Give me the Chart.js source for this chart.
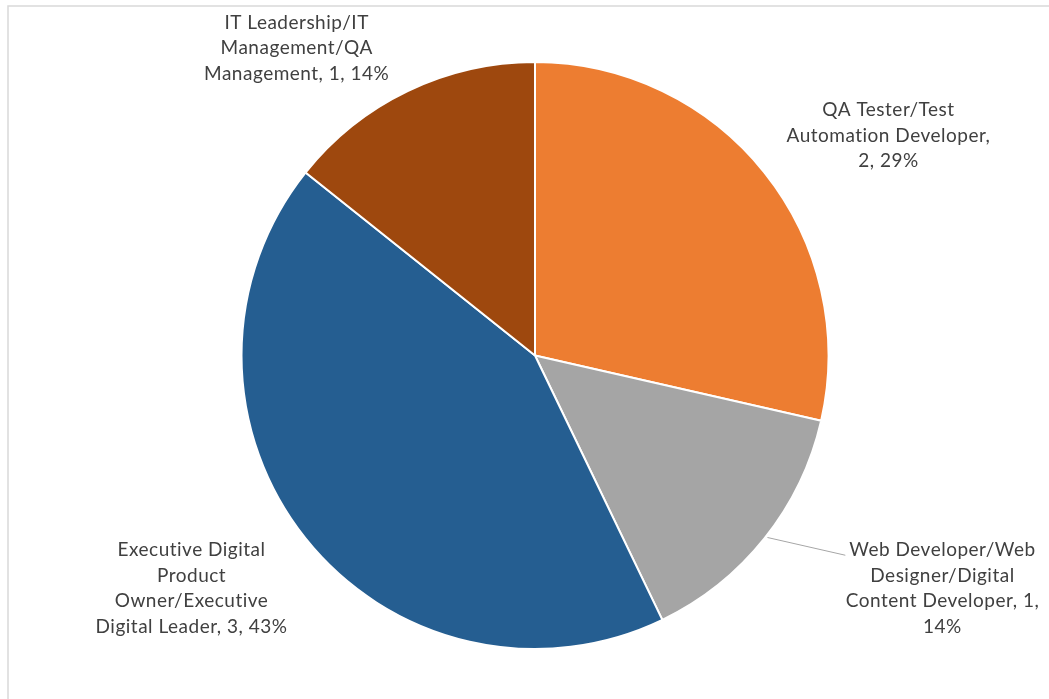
<!DOCTYPE html>
<html>
<head>
<meta charset="utf-8">
<title>Roles</title>
<script src="https://cdn.jsdelivr.net/npm/chart.js@4.4.1/dist/chart.umd.min.js"></script>
<style>
  html, body { margin: 0; padding: 0; background: #ffffff; }
  #wrap { position: relative; width: 1049px; height: 699px; }
</style>
</head>
<body>
<div id="wrap"><canvas id="rolesChart" width="1049" height="699"></canvas></div>
<script>
// Roles and how many people hold each one
const categories = [
    'QA Tester/Test Automation Developer',
    'Web Developer/Web Designer/Digital Content Developer',
    'Executive Digital Product Owner/Executive Digital Leader',
    'IT Leadership/IT Management/QA Management'
];
const counts = [2, 1, 3, 1];
const sliceColors = ['#ED7D31', '#A5A5A5', '#255E91', '#9E480E'];

// Label placement: offset of the label block centre from the slice's outer mid point,
// wrap width, and whether a leader line is drawn
const labelOffsets = [[124, -37], [178, 50], [-114, 50], [-111, -43]];
const labelWrap = [212, 196, 202, 200];
const leaderLines = [false, true, false, false];

const FONT = '19px Lato, "Open Sans", sans-serif';
const LINE_H = 25.5;

function wrapText(ctx, text, maxW) {
    const words = text.split(' ');
    const lines = [];
    let cur = '';
    words.forEach(w => {
        const test = cur ? cur + ' ' + w : w;
        if (cur && ctx.measureText(test).width > maxW) {
            lines.push(cur);
            cur = w;
        } else {
            cur = test;
        }
    });
    if (cur) lines.push(cur);
    return lines;
}

// Light frame around the chart area
const framePlugin = {
    id: 'frame',
    beforeDraw(chart) {
        const c = chart.ctx;
        c.save();
        c.strokeStyle = '#D9D9D9';
        c.lineWidth = 1.5;
        c.strokeRect(8, 6, chart.width + 20, chart.height + 20);
        c.restore();
    }
};

// Outside labels: "category, value, percent"
const outsideLabels = {
    id: 'outsideLabels',
    afterDatasetsDraw(chart) {
        const c = chart.ctx;
        const meta = chart.getDatasetMeta(0);
        const total = counts.reduce((a, b) => a + b, 0);
        c.save();
        c.font = FONT;
        c.letterSpacing = '0.5px';
        c.fillStyle = '#404040';
        c.textAlign = 'center';
        c.textBaseline = 'middle';
        meta.data.forEach((arc, i) => {
            const mid = (arc.startAngle + arc.endAngle) / 2;
            const ex = arc.x + Math.cos(mid) * arc.outerRadius;
            const ey = arc.y + Math.sin(mid) * arc.outerRadius;
            const lx = ex + labelOffsets[i][0];
            const ly = ey + labelOffsets[i][1];
            const pct = Math.round(counts[i] / total * 100);
            const text = categories[i] + ', ' + counts[i] + ', ' + pct + '%';
            const lines = wrapText(c, text, labelWrap[i]);
            const top = ly - (lines.length - 1) * LINE_H / 2;
            lines.forEach((ln, k) => c.fillText(ln, lx, top + k * LINE_H));
            if (leaderLines[i]) {
                const firstW = c.measureText(lines[0]).width;
                c.strokeStyle = '#A6A6A6';
                c.lineWidth = 1;
                c.beginPath();
                c.moveTo(ex + 3, ey - 1);
                c.lineTo(lx - firstW / 2 - 4, top + 5);
                c.stroke();
            }
        });
        c.restore();
    }
};

new Chart(document.getElementById('rolesChart'), {
    type: 'pie',
    data: {
        labels: categories,
        datasets: [{
            data: counts,
            backgroundColor: sliceColors,
            borderColor: '#ffffff',
            borderWidth: 2
        }]
    },
    options: {
        responsive: false,
        animation: false,
        layout: {
            padding: { left: 240, right: 219, top: 61, bottom: 49 }
        },
        plugins: {
            legend: { display: false },
            tooltip: { enabled: false }
        }
    },
    plugins: [framePlugin, outsideLabels]
});
</script>
</body>
</html>
